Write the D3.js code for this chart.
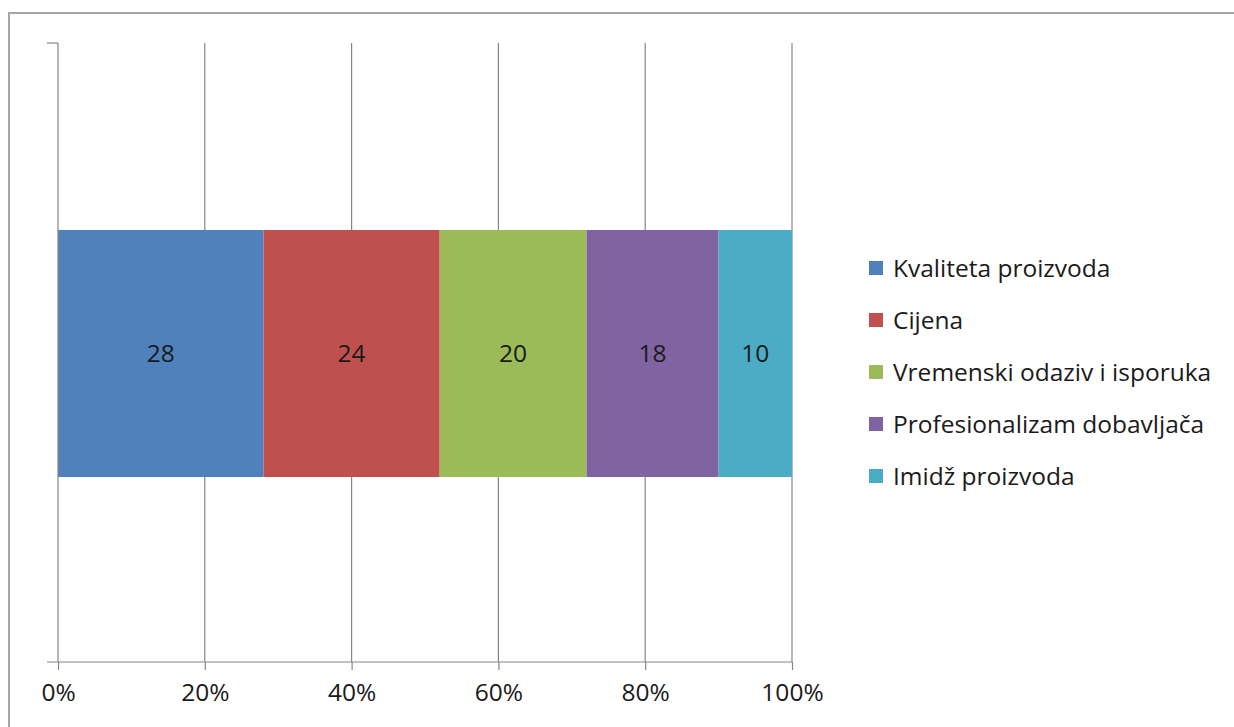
<!DOCTYPE html>
<html lang="en">
  <head>
    <meta charset="utf-8">
    <title>Chart</title>
    <script src="https://cdn.jsdelivr.net/npm/d3@7"></script>
    <style>
      body { margin: 0; background: #fff; }
      svg text { font-family: "Open Sans", Lato, sans-serif; fill: #1a1a1a; }
    </style>
  </head>
  <body>
    <svg id="svg" width="1234" height="727"></svg>
    <script type="text/javascript">
        // - data
        var categories = ["Kvaliteta proizvoda", "Cijena", "Vremenski odaziv i isporuka",
                          "Profesionalizam dobavljača", "Imidž proizvoda"];
        var values = [28, 24, 20, 18, 10];
        var colors = ["#4F81BD", "#C0504D", "#9BBB59", "#8064A2", "#4BACC6"];
        var tickValues = [0, 0.2, 0.4, 0.6, 0.8, 1.0];

        var svg = d3.select("svg#svg");
        var fontSize = "24.5px";

        // - outer chart border (runs off right and bottom)
        svg.append("rect")
            .attr("x", 9).attr("y", 13)
            .attr("width", 1240).attr("height", 740)
            .attr("fill", "none")
            .attr("stroke", "#a6a6a6")
            .attr("stroke-width", 2);

        var plotTop = 43, plotBottom = 662;
        var x = d3.scaleLinear().domain([0, 1]).range([58, 792]);

        // - gridlines
        svg.append("g").selectAll("line")
            .data(tickValues.slice(1))
            .join("line")
            .attr("x1", function(d) { return x(d); })
            .attr("x2", function(d) { return x(d); })
            .attr("y1", plotTop).attr("y2", plotBottom)
            .attr("stroke", "#868686").attr("stroke-width", 1.2);

        // - stacked bar
        var total = d3.sum(values);
        var cum = 0;
        var segs = values.map(function(v, i) {
            var s = { name: categories[i], v: v, x0: cum / total, x1: (cum + v) / total, c: colors[i] };
            cum += v;
            return s;
        });
        var barY = 230, barH = 247;
        svg.append("g").selectAll("rect")
            .data(segs)
            .join("rect")
            .attr("x", function(d) { return x(d.x0); })
            .attr("width", function(d) { return x(d.x1) - x(d.x0); })
            .attr("y", barY).attr("height", barH)
            .attr("fill", function(d) { return d.c; });

        svg.append("g").selectAll("text")
            .data(segs)
            .join("text")
            .attr("x", function(d) { return (x(d.x0) + x(d.x1)) / 2; })
            .attr("y", barY + barH / 2)
            .attr("dy", "0.35em")
            .attr("text-anchor", "middle")
            .style("font-size", fontSize)
            .text(function(d) { return d.v; });

        // - x axis
        var xAxis = d3.axisBottom(x)
            .tickValues(tickValues)
            .tickFormat(d3.format(".0%"))
            .tickSize(8)
            .tickSizeOuter(0)
            .tickPadding(14);
        var gx = svg.append("g").attr("transform", "translate(0," + plotBottom + ")").call(xAxis);
        gx.select(".domain").remove();
        gx.selectAll(".tick line").attr("stroke", "#868686").attr("stroke-width", 1.2);
        gx.selectAll(".tick text").style("font-size", fontSize).style("font-family", "'Open Sans', Lato, sans-serif").attr("fill", "#1a1a1a");
        gx.append("line")
            .attr("x1", 47).attr("x2", 792).attr("y1", 0).attr("y2", 0)
            .attr("stroke", "#868686").attr("stroke-width", 1.2);

        // - y axis
        svg.append("line")
            .attr("x1", 58).attr("x2", 58).attr("y1", plotTop).attr("y2", plotBottom)
            .attr("stroke", "#868686").attr("stroke-width", 1.2);
        svg.append("line")
            .attr("x1", 47).attr("x2", 58).attr("y1", plotTop).attr("y2", plotTop)
            .attr("stroke", "#868686").attr("stroke-width", 1.2);

        // - legend
        var leg = svg.append("g").selectAll("g")
            .data(categories)
            .join("g")
            .attr("transform", function(d, i) { return "translate(869," + (268 + i * 52) + ")"; });
        leg.append("rect")
            .attr("x", 0).attr("y", -7).attr("width", 14).attr("height", 14)
            .attr("fill", function(d, i) { return colors[i]; });
        leg.append("text")
            .attr("x", 24).attr("y", 0).attr("dy", "0.35em")
            .style("font-size", fontSize)
            .text(function(d) { return d; });
    </script>
  </body>
</html>
